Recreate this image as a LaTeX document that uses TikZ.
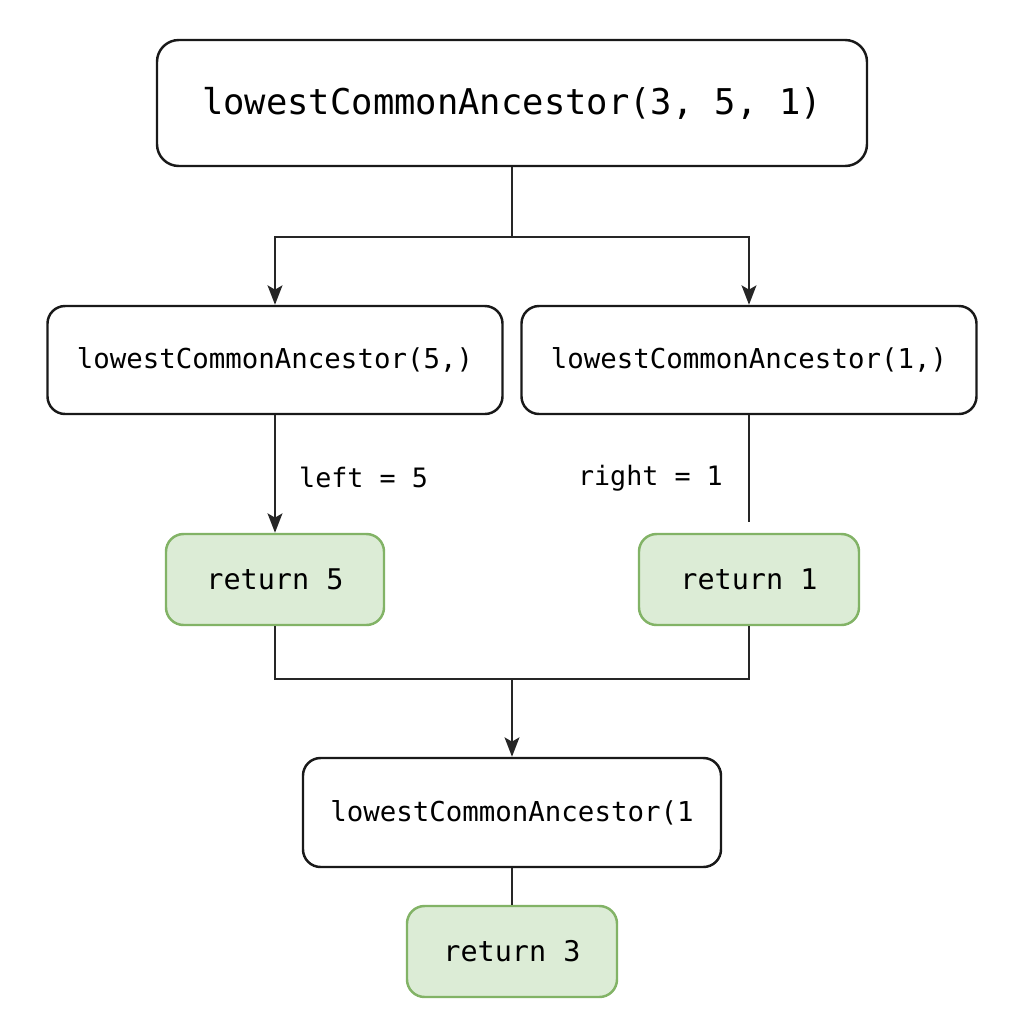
\documentclass[tikz,border=0pt]{standalone}
\usepackage{fontspec}
\setmonofont{DejaVu Sans Mono}
\usetikzlibrary{positioning}
\usetikzlibrary{arrows.meta}
\definecolor{retgreen}{RGB}{130,179,102}
\definecolor{retfill}{RGB}{220,236,214}
\tikzset{
    callbox/.style = {rectangle, rounded corners=5pt, draw=black!90, line width=0.7pt, fill=white, inner sep=0pt, align=center, font=\ttfamily\fontsize{7.8}{9}\selectfont},
    topbox/.style = {callbox, rounded corners=6.2pt, minimum width=7.1cm, minimum height=1.26cm, font=\ttfamily\fontsize{10.1}{12}\selectfont},
    midbox/.style = {callbox, minimum width=4.55cm, minimum height=1.08cm},
    retbox/.style = {callbox, draw=retgreen, fill=retfill, minimum height=0.91cm, font=\ttfamily\fontsize{8.1}{10}\selectfont},
    edgea/.style = {-{Stealth[length=5.5pt,width=4.2pt,inset=1.2pt]}, line width=0.7pt, black!85},
    edgep/.style = {line width=0.7pt, black!85},
    lbl/.style = {inner sep=0pt, text=black, font=\ttfamily\fontsize{7.6}{9}\selectfont}
}

\begin{document}
\begin{tikzpicture}
\useasboundingbox (0,0) rectangle (10.24,-10.24);
\node[topbox] at (5.12, -1.03) (top) {lowestCommonAncestor(3, 5, 1)};
\node[midbox] at (2.75, -3.60) (midL) {lowestCommonAncestor(5,)};
\node[midbox] at (7.49, -3.60) (midR) {lowestCommonAncestor(1,)};
\node[retbox, minimum width=2.18cm] at (2.75, -5.795) (retL) {return 5};
\node[retbox, minimum width=2.20cm] at (7.49, -5.795) (retR) {return 1};
\node[midbox, minimum width=4.18cm, minimum height=1.09cm] at (5.12, -8.125) (bot) {lowestCommonAncestor(1};
\node[retbox, minimum width=2.10cm] at (5.12, -9.515) (ret3) {return 3};
%
\coordinate (fork) at (5.12, -2.37);
\coordinate (join) at (5.12, -6.79);
\coordinate (stopR) at (7.49, -5.22);
%
\draw[edgep] (top) -- (fork);
\draw[edgea] (fork) -| (midL);
\draw[edgea] (fork) -| (midR);
\draw[edgea] (midL) -- node[lbl, pos=0.53, anchor=west, xshift=0.23cm] {left = 5} (retL);
\draw[edgep] (midR) -- node[lbl, pos=0.59, anchor=east, xshift=-0.25cm] {right = 1} (stopR);
\draw[edgep] (retL) |- (join) -| (retR);
\draw[edgea] (join) -- (bot);
\draw[edgep] (bot) -- (ret3);
\end{tikzpicture}
\end{document}
